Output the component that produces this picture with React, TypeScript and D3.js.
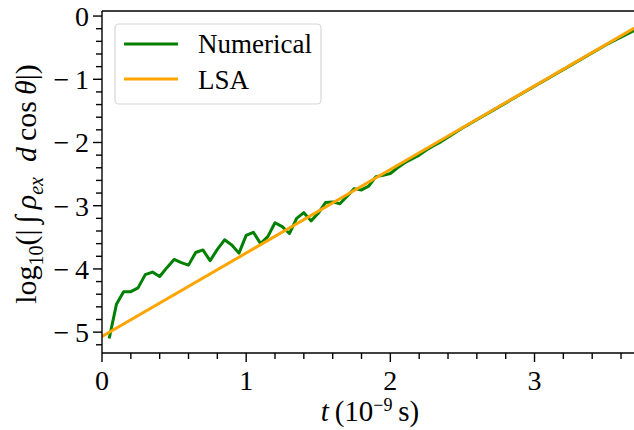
import React from 'react';
import * as d3 from 'd3';

// time in 1e-9 s, values are log10 of the integral
const numT = [0.05, 0.10, 0.15, 0.20, 0.25, 0.30, 0.35, 0.40, 0.45, 0.50, 0.55, 0.60, 0.65, 0.70, 0.75, 0.80, 0.85, 0.90, 0.95, 1.00,
  1.05, 1.10, 1.15, 1.20, 1.25, 1.30, 1.35, 1.40, 1.45, 1.50, 1.55, 1.60, 1.65, 1.70, 1.75, 1.80, 1.85, 1.90, 1.95, 2.00,
  2.05, 2.10, 2.15, 2.20, 2.25, 2.30, 2.35, 2.50, 2.75, 3.00, 3.25, 3.50, 3.70];
const numY = [-5.10, -4.56, -4.36, -4.36, -4.30, -4.09, -4.05, -4.12, -3.98, -3.85, -3.90, -3.94, -3.74, -3.70, -3.87, -3.69, -3.54, -3.62, -3.75, -3.47,
  -3.42, -3.60, -3.49, -3.27, -3.33, -3.44, -3.20, -3.11, -3.24, -3.12, -2.95, -2.94, -2.97, -2.85, -2.73, -2.75, -2.69, -2.54, -2.52, -2.49,
  -2.40, -2.32, -2.26, -2.20, -2.12, -2.05, -1.99, -1.77, -1.44, -1.11, -0.78, -0.45, -0.22];
const lsaT = [0, 3.7];
const lsaY = [-5.07, -0.18];

const xTicks = [0, 1, 2, 3];
const yTicks = [0, -1, -2, -3, -4, -5];

const W = 634, H = 430;
const m = { left: 102, right: 0, top: 11, bottom: 77 };
const FONT = '"Liberation Serif", "Times New Roman", serif';

const App: React.FC = () => {
  const x = d3.scaleLinear().domain([0, 3.69]).range([m.left, W - m.right]);
  const y = d3.scaleLinear().domain([-5.33, 0.08]).range([H - m.bottom, m.top]);

  const line = d3.line<[number, number]>().x(d => x(d[0])).y(d => y(d[1]));
  const numPts = numT.map((t, i) => [t, numY[i]] as [number, number]);
  const lsaPts = lsaT.map((t, i) => [t, lsaY[i]] as [number, number]);

  const xMinor = d3.range(0, 3.7, 0.2).filter(v => Math.abs(v - Math.round(v)) > 1e-6);
  const yMinor = d3.range(-5.2, 0.01, 0.2).filter(v => Math.abs(v - Math.round(v)) > 1e-6);
  const x0 = m.left, y0 = H - m.bottom;

  return (
    <svg width={W} height={H} style={{ position: 'absolute', left: 0, top: 0, background: '#fff' }} fontFamily={FONT}>
      <defs>
        <clipPath id="plot">
          <rect x={x0} y={m.top} width={W - m.right - x0} height={y0 - m.top} />
        </clipPath>
      </defs>

      <g clipPath="url(#plot)" fill="none" strokeLinejoin="round">
        <path d={line(numPts) || ''} stroke="green" strokeWidth={3} />
        <path d={line(lsaPts) || ''} stroke="orange" strokeWidth={3} />
      </g>

      {/* spines */}
      <g stroke="#000" strokeWidth={1.4}>
        <line x1={x0} x2={W} y1={m.top} y2={m.top} />
        <line x1={x0} x2={x0} y1={m.top} y2={y0} />
        <line x1={x0} x2={W} y1={y0} y2={y0} />
      </g>

      {/* ticks */}
      <g stroke="#000" strokeWidth={1.4}>
        {xTicks.map(t => <line key={'xm' + t} x1={x(t)} x2={x(t)} y1={y0} y2={y0 + 9} />)}
        {xMinor.map(t => <line key={'xn' + t} x1={x(t)} x2={x(t)} y1={y0} y2={y0 + 6} />)}
        {yTicks.map(t => <line key={'ym' + t} x1={x0 - 9} x2={x0} y1={y(t)} y2={y(t)} />)}
        {yMinor.map(t => <line key={'yn' + t} x1={x0 - 6} x2={x0} y1={y(t)} y2={y(t)} />)}
      </g>
      <g fontSize={28} fill="#000">
        {xTicks.map(t => (
          <text key={'xl' + t} x={x(t)} y={y0 + 37} textAnchor="middle">{t}</text>
        ))}
        {yTicks.map(t => (
          <text key={'yl' + t} x={x0 - 13} y={y(t)} dy="0.35em" textAnchor="end">
            {t < 0 ? '\u2212\u2009' + Math.abs(t) : t}
          </text>
        ))}
      </g>

      {/* axis labels */}
      <text x={370} y={421} textAnchor="middle" fontSize={29}>
        <tspan fontStyle="italic">t</tspan>
        <tspan>{'\u2009'}(10</tspan>
        <tspan dy={-10} fontSize={18}>{'\u22129'}</tspan>
        <tspan dy={10}>{'\u2009'}s)</tspan>
      </text>
      <text transform={`translate(36,${184}) rotate(-90)`} textAnchor="middle" fontSize={30}>
        <tspan>log</tspan>
        <tspan dy={7} fontSize={20}>10</tspan>
        <tspan dy={-7}>(|{'\u2009'}{'\u222B'}{'\u2009'}</tspan>
        <tspan fontStyle="italic">{'\u03C1'}</tspan>
        <tspan dy={7} fontSize={20} fontStyle="italic">ex</tspan>
        <tspan dy={-7} fontStyle="italic">{'\u2002d'}</tspan>
        <tspan>{'\u2009'}cos{'\u2009'}</tspan>
        <tspan fontStyle="italic">{'\u03B8'}</tspan>
        <tspan>|)</tspan>
      </text>

      {/* legend */}
      <g>
        <rect x={115} y={24} width={206} height={80} rx={4} fill="#fff" fillOpacity={0.8} stroke="#d6d6d6" strokeWidth={1.2} />
        <line x1={124} x2={178} y1={44} y2={44} stroke="green" strokeWidth={3} />
        <line x1={124} x2={178} y1={79} y2={79} stroke="orange" strokeWidth={3} />
        <text x={198} y={53} fontSize={27}>Numerical</text>
        <text x={198} y={89} fontSize={27}>LSA</text>
      </g>
    </svg>
  );
};

export default App;
